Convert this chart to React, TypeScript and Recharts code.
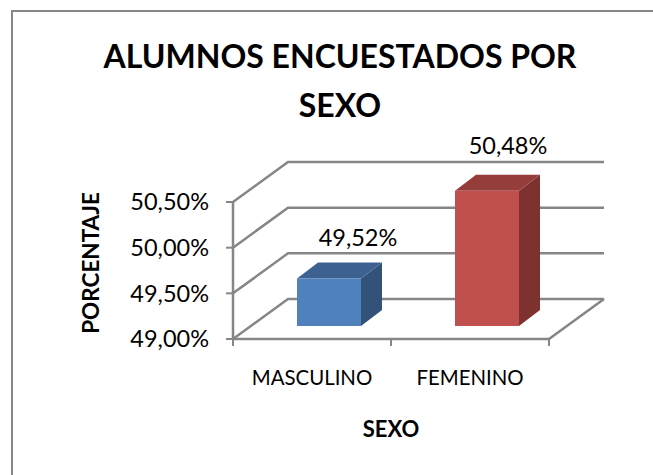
import { BarChart, Bar, XAxis, YAxis, CartesianGrid, Cell, LabelList } from "recharts";

const categories = ["MASCULINO", "FEMENINO"];
const percentages = [49.52, 50.48];
const yTicks = [49, 49.5, 50, 50.5];
const barColors = [
  { front: "#4f81bd", top: "#3d6291", side: "#325279" },
  { front: "#c0504d", top: "#953d3b", side: "#7e3230" },
];

const tableData = categories.map((sexo, i) => ({ sexo, valor: percentages[i] }));

const FONT = "Lato, Carlito, sans-serif";
const GRID = "#868686";
const GRID_W = 2.5;
// fake 3d: how far the back wall sits from the axes
const WALL_DX = 55;
const WALL_DY = -40;
// bars stand in the middle of the floor
const BAR_DX = 17;
const BAR_DY = -13;
const DEPTH_DX = 21;
const DEPTH_DY = -16;

const pct = (v: number, digits = 2) => v.toFixed(digits).replace(".", ",") + "%";

function Box3D(props: any) {
  const { x, y, width, height, index } = props;
  const c = barColors[index];
  const l = x + BAR_DX;
  const r = l + width;
  const t = y + BAR_DY;
  const b = t + height;
  return (
    <g>
      <polygon
        points={`${r},${t} ${r + DEPTH_DX},${t + DEPTH_DY} ${r + DEPTH_DX},${b + DEPTH_DY} ${r},${b}`}
        fill={c.side}
      />
      <polygon
        points={`${l},${t} ${l + DEPTH_DX},${t + DEPTH_DY} ${r + DEPTH_DX},${t + DEPTH_DY} ${r},${t}`}
        fill={c.top}
      />
      <rect x={l} y={t} width={width} height={height} fill={c.front} />
    </g>
  );
}

function WallLine(props: any) {
  const { x1, x2, y1 } = props;
  const isFloor = props.index === 0;
  const bx = x1 + WALL_DX;
  const by = y1 + WALL_DY;
  return (
    <g fill="none" stroke={GRID} strokeWidth={GRID_W}>
      <polyline points={`${x1},${y1} ${bx},${by} ${x2 + WALL_DX},${by}`} />
      {isFloor && <line x1={x2} y1={y1} x2={x2 + WALL_DX} y2={by} />}
    </g>
  );
}

function CategoryTick(props: any) {
  const { x, y, payload } = props;
  const half = 79;
  return (
    <g>
      <line x1={x - half} x2={x - half} y1={y - 8} y2={y - 1} stroke={GRID} strokeWidth={2} />
      <line x1={x + half} x2={x + half} y1={y - 8} y2={y - 1} stroke={GRID} strokeWidth={2} />
      <text x={x} y={y + 38} textAnchor="middle" fontFamily={FONT} fontSize={20.4} fill="#000">
        {payload.value}
      </text>
    </g>
  );
}

function BarValue(props: any) {
  const { x, y, width, value, index } = props;
  // the two labels do not sit the same way over their bars
  const nudgeX = index === 0 ? 29 : 21;
  const nudgeY = index === 0 ? -33 : -37;
  return (
    <text
      x={x + BAR_DX + width / 2 + nudgeX}
      y={y + BAR_DY + nudgeY}
      textAnchor="middle"
      fontFamily={FONT}
      fontSize={23.5}
      fill="#000"
    >
      {pct(value)}
    </text>
  );
}

export default function App() {
  return (
    <div style={{ position: "absolute", left: 0, top: 0, width: 653, height: 475, background: "#fff" }}>
      <div
        style={{
          position: "absolute",
          left: 11,
          top: 10,
          width: 642,
          height: 465,
          boxSizing: "border-box",
          borderTop: `2px solid ${GRID}`,
          borderLeft: `2px solid ${GRID}`,
        }}
      />
      <div style={{ position: "absolute", left: 0, top: 0 }}>
        <BarChart
          width={653}
          height={475}
          data={tableData}
          margin={{ top: 202, right: 104, bottom: 86, left: 123 }}
        >
          <CartesianGrid vertical={false} horizontal={(p: any) => <WallLine {...p} />} />
          <XAxis
            dataKey="sexo"
            height={50}
            axisLine={{ stroke: GRID, strokeWidth: GRID_W }}
            tickLine={false}
            tick={<CategoryTick />}
            interval={0}
          />
          <YAxis
            width={110}
            domain={[49, 50.5]}
            ticks={yTicks}
            interval={0}
            tickFormatter={(v: number) => pct(v)}
            axisLine={{ stroke: GRID, strokeWidth: GRID_W }}
            tickLine={{ stroke: GRID, strokeWidth: 2 }}
            tickSize={7}
            tickMargin={17}
            tick={{ fontFamily: FONT, fontSize: 23.5, fill: "#000" }}
          />
          <Bar dataKey="valor" barSize={64} isAnimationActive={false} shape={<Box3D />}>
            {categories.map((c, i) => (
              <Cell key={c} fill={barColors[i].front} />
            ))}
            <LabelList dataKey="valor" content={<BarValue />} />
          </Bar>
          <text x={340} y={68} textAnchor="middle" fontFamily={FONT} fontWeight={700} fontSize={32} fill="#000">
            ALUMNOS ENCUESTADOS POR
          </text>
          <text x={340} y={117} textAnchor="middle" fontFamily={FONT} fontWeight={700} fontSize={32} fill="#000">
            SEXO
          </text>
          <text
            x={99}
            y={263}
            transform="rotate(-90 99 263)"
            textAnchor="middle"
            fontFamily={FONT}
            fontWeight={700}
            fontSize={22.5}
            fill="#000"
          >
            PORCENTAJE
          </text>
          <text x={391} y={437} textAnchor="middle" fontFamily={FONT} fontWeight={700} fontSize={22} fill="#000">
            SEXO
          </text>
        </BarChart>
      </div>
    </div>
  );
}
